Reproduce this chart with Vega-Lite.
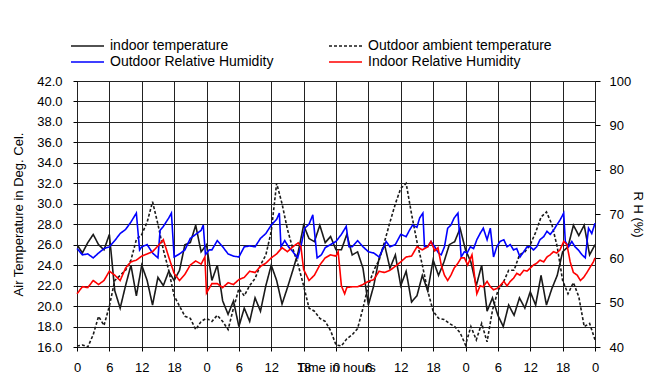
{
"$schema": "https://vega.github.io/schema/vega-lite/v6.json",
"width": 518, "height": 266,
"autosize": "none",
"padding": {"left": 77, "top": 81, "right": 51, "bottom": 27},
"background": "white",
"config": {
  "font": "Liberation Sans",
  "view": {"stroke": "black", "strokeDash": [3, 2], "strokeWidth": 1},
  "axis": {"labelFont": "Liberation Sans", "titleFont": "Liberation Sans", "labelColor": "black", "titleColor": "black", "titleFontWeight": "normal", "labelFontSize": 13, "titleFontSize": 13, "domain": false, "tickColor": "black", "gridColor": "#222222", "gridOpacity": 1, "gridWidth": 1},
  "legend": {"labelFont": "Liberation Sans", "labelFontSize": 14, "labelColor": "black", "labelLimit": 400}
},
"datasets": {
"tin": [
{"h":0,"v":26},{"h":1,"v":25.2},{"h":2,"v":26.2},{"h":3,"v":27},{"h":4,"v":26},{"h":5,"v":25.5},{"h":6,"v":27},{"h":7,"v":21.5},{"h":8,"v":19.8},{"h":9,"v":22},{"h":10,"v":24},{"h":11,"v":21},{"h":12,"v":24},{"h":13,"v":22.5},{"h":14,"v":20.1},{"h":15,"v":22.8},{"h":16,"v":22},{"h":17,"v":23.4},{"h":18,"v":22.5},{"h":19,"v":23.5},{"h":20,"v":26},{"h":21,"v":26.2},{"h":22,"v":27.9},{"h":23,"v":25.3},
{"h":24,"v":26},{"h":25,"v":22.5},{"h":26,"v":24},{"h":27,"v":20.5},{"h":28,"v":19.2},{"h":29,"v":20.5},{"h":30,"v":18},{"h":31,"v":19.8},{"h":32,"v":18.5},{"h":33,"v":20.8},{"h":34,"v":19.5},{"h":35,"v":22},{"h":36,"v":24},{"h":37,"v":22.5},{"h":38,"v":20.2},{"h":39,"v":21.8},{"h":40,"v":23.5},{"h":41,"v":25.3},{"h":42,"v":27.9},{"h":43,"v":26.6},{"h":44,"v":26.3},{"h":45,"v":27.9},{"h":46,"v":26.2},{"h":47,"v":26.8},
{"h":48,"v":25.5},{"h":49,"v":25.5},{"h":50,"v":27},{"h":51,"v":25},{"h":52,"v":25.3},{"h":53,"v":23.7},{"h":54,"v":20.1},{"h":55,"v":22},{"h":56,"v":24.7},{"h":57,"v":26},{"h":58,"v":23.7},{"h":59,"v":25},{"h":60,"v":22},{"h":61,"v":23.4},{"h":62,"v":20.4},{"h":63,"v":21},{"h":64,"v":23},{"h":65,"v":21.5},{"h":66,"v":24.5},{"h":67,"v":23},{"h":68,"v":24.3},{"h":69,"v":26},{"h":70,"v":26.3},{"h":71,"v":27.6},
{"h":72,"v":25.5},{"h":73,"v":24.3},{"h":74,"v":22},{"h":75,"v":24},{"h":76,"v":19.5},{"h":77,"v":20.8},{"h":78,"v":19.1},{"h":79,"v":18},{"h":80,"v":20.1},{"h":81,"v":19.1},{"h":82,"v":20.8},{"h":83,"v":19.8},{"h":84,"v":21.4},{"h":85,"v":20.1},{"h":86,"v":23},{"h":87,"v":20.1},{"h":88,"v":21.7},{"h":89,"v":23},{"h":90,"v":25.3},{"h":91,"v":25.8},{"h":92,"v":27.9},{"h":93,"v":26.9},{"h":94,"v":27.9},{"h":95,"v":25},{"h":96,"v":26}
],
"tout": [
{"h":0,"v":16.1},{"h":1,"v":16.2},{"h":2,"v":16},{"h":3,"v":17.2},{"h":4,"v":19},{"h":5,"v":18.1},{"h":6,"v":20},{"h":7,"v":22.5},{"h":8,"v":23},{"h":9,"v":23.5},{"h":10,"v":24.5},{"h":11,"v":26.5},{"h":12,"v":27},{"h":13,"v":28.2},{"h":14,"v":30.2},{"h":15,"v":28},{"h":16,"v":25.5},{"h":17,"v":23.5},{"h":18,"v":21},{"h":19,"v":20},{"h":20,"v":19},{"h":21,"v":18.8},{"h":22,"v":17.7},{"h":23,"v":18.5},
{"h":24,"v":18.8},{"h":25,"v":18.5},{"h":26,"v":19.1},{"h":27,"v":18.5},{"h":28,"v":17.7},{"h":29,"v":19.8},{"h":30,"v":21.7},{"h":31,"v":21},{"h":32,"v":22},{"h":33,"v":22.7},{"h":34,"v":24},{"h":35,"v":25},{"h":36,"v":27.3},{"h":37,"v":32},{"h":38,"v":30},{"h":39,"v":27.5},{"h":40,"v":25.6},{"h":41,"v":24},{"h":42,"v":22},{"h":43,"v":19.8},{"h":44,"v":19.5},{"h":45,"v":18.8},{"h":46,"v":18.5},{"h":47,"v":17.6},
{"h":48,"v":16.2},{"h":49,"v":16.1},{"h":50,"v":16.8},{"h":51,"v":17.2},{"h":52,"v":17.8},{"h":53,"v":19.8},{"h":54,"v":22},{"h":55,"v":23.5},{"h":56,"v":24.5},{"h":57,"v":26.3},{"h":58,"v":28.2},{"h":59,"v":30},{"h":60,"v":31.5},{"h":61,"v":32},{"h":62,"v":29},{"h":63,"v":26.3},{"h":64,"v":24},{"h":65,"v":21.5},{"h":66,"v":19.5},{"h":67,"v":18.8},{"h":68,"v":18.7},{"h":69,"v":18.3},{"h":70,"v":18},{"h":71,"v":17.4},
{"h":72,"v":16.2},{"h":73,"v":18},{"h":74,"v":16.7},{"h":75,"v":18.3},{"h":76,"v":16.5},{"h":77,"v":19.6},{"h":78,"v":21.5},{"h":79,"v":22.3},{"h":80,"v":23.5},{"h":81,"v":23.5},{"h":82,"v":25},{"h":83,"v":25.3},{"h":84,"v":26},{"h":85,"v":27.2},{"h":86,"v":28.7},{"h":87,"v":29.2},{"h":88,"v":28},{"h":89,"v":25.8},{"h":90,"v":22.5},{"h":91,"v":21.2},{"h":92,"v":22.3},{"h":93,"v":20.9},{"h":94,"v":18},{"h":95,"v":18.3},{"h":96,"v":16.7}
],
"rhout": [
{"h":0,"v":62.2},{"h":1,"v":60.8},{"h":2,"v":61.0},{"h":3,"v":60.1},{"h":4,"v":61.2},{"h":5,"v":62.2},{"h":6,"v":62.6},{"h":7,"v":64.0},{"h":8,"v":65.6},{"h":9,"v":66.5},{"h":10,"v":68.2},{"h":11,"v":70.2},{"h":11.6,"v":61.9},{"h":12,"v":62.6},{"h":13,"v":63.1},{"h":14,"v":61.2},{"h":15,"v":60.1},{"h":15.4,"v":66.3},{"h":16,"v":67.2},{"h":17,"v":69.1},{"h":17.5,"v":70.2},{"h":18,"v":60.3},{"h":19,"v":61.0},{"h":20,"v":61.9},{"h":21,"v":64.5},{"h":22,"v":65.4},{"h":23,"v":66.3},{"h":23.4,"v":67.5},{"h":23.8,"v":60.8},
{"h":24.5,"v":61.9},{"h":25,"v":61.9},{"h":26,"v":64.0},{"h":27,"v":62.6},{"h":28,"v":61.0},{"h":29,"v":60.5},{"h":30,"v":60.3},{"h":31,"v":62.6},{"h":32,"v":62.8},{"h":33,"v":62.6},{"h":34,"v":64.5},{"h":35,"v":65.6},{"h":36,"v":67.5},{"h":37,"v":68.8},{"h":37.5,"v":70.2},{"h":37.8,"v":62.6},{"h":38.5,"v":64.0},{"h":39.2,"v":62.6},{"h":40,"v":61.5},{"h":40.9,"v":60.1},{"h":41.6,"v":63.3},{"h":42.2,"v":66.8},{"h":43,"v":67.7},{"h":43.7,"v":69.8},{"h":44.5,"v":60.1},{"h":45.3,"v":60.8},{"h":46,"v":62.4},{"h":47,"v":63.1},{"h":48,"v":63.8},
{"h":49,"v":65.4},{"h":49.9,"v":67.2},{"h":50.4,"v":62.6},{"h":51,"v":62.6},{"h":52,"v":64.0},{"h":53,"v":62.6},{"h":54,"v":61.5},{"h":55,"v":61.2},{"h":56,"v":60.3},{"h":56.7,"v":62.2},{"h":57.3,"v":63.8},{"h":58,"v":62.6},{"h":59,"v":63.1},{"h":60,"v":65.4},{"h":61,"v":64.9},{"h":61.6,"v":66.3},{"h":62.2,"v":67.5},{"h":63,"v":67.0},{"h":63.5,"v":69.1},{"h":64.1,"v":70.2},{"h":64.4,"v":62.6},{"h":65,"v":62.6},{"h":65.6,"v":63.8},{"h":66.3,"v":62.6},{"h":67,"v":61.2},{"h":67.5,"v":60.8},{"h":68.1,"v":62.6},{"h":68.7,"v":66.8},{"h":69.3,"v":67.5},{"h":69.9,"v":69.1},{"h":70.6,"v":70.2},{"h":71.2,"v":60.3},{"h":71.8,"v":61.5},
{"h":72.3,"v":61.2},{"h":72.9,"v":62.6},{"h":73.5,"v":62.2},{"h":74.1,"v":64.2},{"h":74.7,"v":65.6},{"h":75.3,"v":66.8},{"h":76,"v":64.2},{"h":76.6,"v":66.8},{"h":77.2,"v":60.3},{"h":77.8,"v":62.6},{"h":78.4,"v":63.8},{"h":79.1,"v":64.2},{"h":79.7,"v":62.6},{"h":80.3,"v":63.1},{"h":80.9,"v":61.9},{"h":81.5,"v":62.2},{"h":82.1,"v":60.3},{"h":82.8,"v":61.5},{"h":83.4,"v":62.6},{"h":84,"v":62.6},{"h":84.6,"v":61.9},{"h":85.2,"v":62.6},{"h":85.8,"v":64.2},{"h":86.5,"v":64.9},{"h":87.1,"v":66.1},{"h":87.7,"v":65.4},{"h":88.3,"v":66.3},{"h":88.9,"v":67.5},{"h":89.5,"v":68.6},{"h":90.2,"v":70.2},{"h":90.5,"v":63.8},{"h":91.1,"v":62.6},{"h":91.7,"v":63.8},{"h":92.3,"v":62.6},{"h":92.9,"v":61.9},{"h":93.6,"v":60.8},{"h":94.2,"v":60.1},{"h":94.8,"v":66.8},{"h":95.4,"v":65.6},{"h":96,"v":67.9}
],
"rhin": [
{"h":0,"v":52.0},{"h":1,"v":53.6},{"h":2,"v":53.4},{"h":3,"v":55.0},{"h":4,"v":54.1},{"h":5,"v":55.0},{"h":6,"v":57.1},{"h":7,"v":56.2},{"h":8,"v":55.0},{"h":9,"v":57.8},{"h":10,"v":59.2},{"h":11,"v":59.6},{"h":12,"v":60.5},{"h":13,"v":61.0},{"h":14,"v":61.5},{"h":15,"v":62.8},{"h":16,"v":64.2},{"h":17,"v":60.3},{"h":18,"v":56.6},{"h":19,"v":55.0},{"h":20,"v":56.4},{"h":21,"v":58.5},{"h":22,"v":59.4},{"h":23,"v":58.7},{"h":23.7,"v":60.3},{"h":24,"v":52.2},
{"h":25,"v":54.3},{"h":26,"v":54.3},{"h":27,"v":53.4},{"h":28,"v":54.5},{"h":29,"v":54.1},{"h":30,"v":55.2},{"h":31,"v":55.7},{"h":32,"v":57.1},{"h":33,"v":56.8},{"h":34,"v":58.2},{"h":35,"v":58.9},{"h":36,"v":60.1},{"h":37,"v":61.0},{"h":38,"v":62.4},{"h":39,"v":61.5},{"h":40,"v":62.6},{"h":41,"v":63.5},{"h":41.5,"v":62.6},{"h":42,"v":57.5},{"h":43,"v":55.0},{"h":44,"v":56.2},{"h":45,"v":58.5},{"h":46,"v":60.1},{"h":47,"v":60.8},{"h":48,"v":60.5},
{"h":48.4,"v":61.5},{"h":49,"v":53.8},{"h":49.6,"v":52.0},{"h":50,"v":53.4},{"h":51,"v":53.6},{"h":52,"v":53.6},{"h":53,"v":54.1},{"h":54,"v":54.8},{"h":55,"v":55.2},{"h":56,"v":57.1},{"h":57,"v":56.8},{"h":58,"v":57.3},{"h":59,"v":58.2},{"h":60,"v":59.2},{"h":61,"v":60.3},{"h":62,"v":60.5},{"h":63,"v":62.6},{"h":64,"v":61.9},{"h":65,"v":62.6},{"h":65.6,"v":63.8},{"h":66.3,"v":61.7},{"h":66.9,"v":62.4},{"h":67.5,"v":58.5},{"h":68.1,"v":56.2},{"h":68.7,"v":55.0},{"h":69.3,"v":56.2},{"h":69.9,"v":57.8},{"h":70.6,"v":58.9},{"h":71.2,"v":60.1},{"h":71.8,"v":60.1},{"h":72.4,"v":58.5},
{"h":73.2,"v":60.8},{"h":73.8,"v":54.8},{"h":74.1,"v":52.0},{"h":74.7,"v":53.8},{"h":75.3,"v":53.6},{"h":76,"v":54.8},{"h":76.6,"v":53.6},{"h":77.2,"v":52.9},{"h":77.8,"v":53.2},{"h":78.4,"v":53.8},{"h":79.1,"v":54.8},{"h":79.7,"v":53.8},{"h":80.3,"v":54.8},{"h":80.9,"v":55.5},{"h":81.5,"v":56.6},{"h":82.1,"v":56.2},{"h":82.8,"v":57.3},{"h":83.4,"v":57.1},{"h":84,"v":57.8},{"h":84.6,"v":58.5},{"h":85.2,"v":58.9},{"h":85.8,"v":59.6},{"h":86.5,"v":59.2},{"h":87.1,"v":60.3},{"h":87.7,"v":60.8},{"h":88.3,"v":61.5},{"h":88.9,"v":61.2},{"h":89.5,"v":61.9},{"h":90.2,"v":63.8},{"h":90.8,"v":63.1},{"h":91.4,"v":59.2},{"h":92,"v":56.8},{"h":92.7,"v":56.2},{"h":93.3,"v":55.0},{"h":93.9,"v":55.7},{"h":94.5,"v":56.8},{"h":95.1,"v":58.0},{"h":95.7,"v":59.2},{"h":96,"v":60.1}
]
},
"encoding": {
  "x": {"field": "h", "type": "quantitative", "scale": {"domain": [0, 96], "nice": false, "zero": false},
        "axis": {"values": [0,6,12,18,24,30,36,42,48,54,60,66,72,78,84,90,96], "labelExpr": "datum.value % 24", "title": "Time in hours", "grid": true, "tickSize": 4, "labelPadding": 10, "labelFlush": false, "titleY": 24, "titleBaseline": "alphabetic"}}
},
"layer": [
  {
    "encoding": {
      "y": {"field": "v", "type": "quantitative", "scale": {"domain": [16, 42], "nice": false, "zero": false},
            "axis": {"values": [16,18,20,22,24,26,28,30,32,34,36,38,40,42], "format": ".1f", "title": "Air Temperature in Deg. Cel.", "grid": true, "tickSize": 4, "labelPadding": 11, "titlePadding": 11}}
    },
    "layer": [
      {"data": {"name": "tin"}, "mark": {"type": "line", "strokeWidth": 1.6},
       "encoding": {
         "color": {"datum": "indoor temperature", "type": "nominal",
                   "scale": {"domain": ["indoor temperature", "Outdoor ambient temperature", "Outdoor Relative Humidity", "Indoor Relative Humidity"], "range": ["#1a1a1a", "#1a1a1a", "#0000ff", "#ff0000"]},
                   "legend": {"title": null, "orient": "none", "legendX": -7, "legendY": -42, "direction": "horizontal", "columns": 2, "symbolType": "stroke", "symbolSize": 1089, "symbolStrokeWidth": 1.6, "labelOffset": 5, "columnPadding": 54, "rowPadding": 2, "clipHeight": 14}},
         "strokeDash": {"datum": "indoor temperature", "type": "nominal",
                   "scale": {"domain": ["indoor temperature", "Outdoor ambient temperature", "Outdoor Relative Humidity", "Indoor Relative Humidity"], "range": [[1, 0], [3, 2], [1, 0], [1, 0]]},
                   "legend": {"title": null, "orient": "none", "legendX": -7, "legendY": -42, "direction": "horizontal", "columns": 2, "symbolType": "stroke", "symbolSize": 1089, "symbolStrokeWidth": 1.6, "labelOffset": 5, "columnPadding": 54, "rowPadding": 2, "clipHeight": 14}}
       }},
      {"data": {"name": "tout"}, "mark": {"type": "line", "strokeWidth": 1.6},
       "encoding": {
         "color": {"datum": "Outdoor ambient temperature", "type": "nominal"},
         "strokeDash": {"datum": "Outdoor ambient temperature", "type": "nominal"}
       }}
    ]
  },
  {
    "encoding": {
      "y": {"field": "v", "type": "quantitative", "scale": {"domain": [40, 100], "nice": false, "zero": false},
            "axis": {"orient": "right", "values": [40,50,60,70,80,90,100], "format": "d", "title": "R H (%)", "grid": false, "tickSize": 5, "labelPadding": 9, "titlePadding": 0}}
    },
    "layer": [
      {"data": {"name": "rhout"}, "mark": {"type": "line", "strokeWidth": 1.6},
       "encoding": {
         "color": {"datum": "Outdoor Relative Humidity", "type": "nominal"},
         "strokeDash": {"datum": "Outdoor Relative Humidity", "type": "nominal"}
       }},
      {"data": {"name": "rhin"}, "mark": {"type": "line", "strokeWidth": 1.6},
       "encoding": {
         "color": {"datum": "Indoor Relative Humidity", "type": "nominal"},
         "strokeDash": {"datum": "Indoor Relative Humidity", "type": "nominal"}
       }}
    ]
  }
],
"resolve": {"scale": {"y": "independent"}}
}
